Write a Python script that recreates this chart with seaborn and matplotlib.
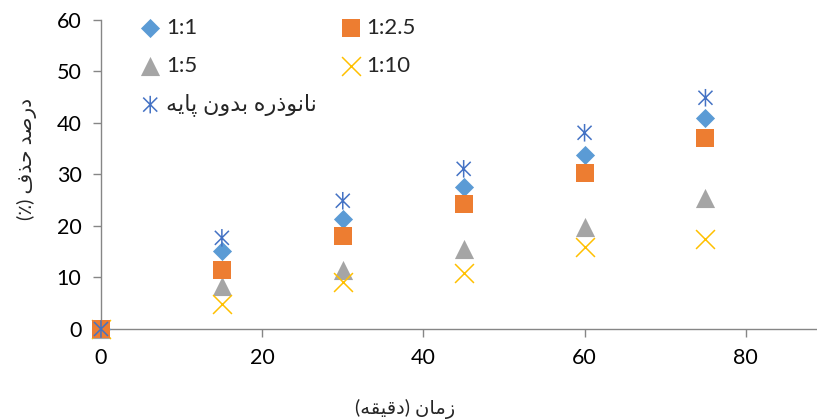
import numpy as np
import pandas as pd
import matplotlib
matplotlib.use('Agg')
import matplotlib.pyplot as plt
from matplotlib.path import Path
import seaborn as sns

# data
time = [0, 15, 30, 45, 60, 75]
time_2_5 = [0, 15, 30, 45, 60, 75, 90]
ratio_1_1 = [0, 15.2, 21.4, 27.6, 33.8, 41.0]
ratio_1_2_5 = [0, 11.5, 18.1, 24.3, 30.3, 37.1, 42.3]
ratio_1_5 = [0, 8.3, 11.5, 15.5, 19.8, 25.5]
ratio_1_10 = [0, 4.9, 9.1, 10.9, 15.9, 17.5]
bare_nano = [0, 17.7, 24.9, 31.1, 38.1, 44.9]

x_ticks = [0, 20, 40, 60, 80]
y_ticks = [0, 10, 20, 30, 40, 50, 60]

# minimal persian shaping (matplotlib has no RTL / joining support)
FORMS = {
    'ا': ('\uFE8D', '\uFE8E', None, None),
    'ب': ('\uFE8F', '\uFE90', '\uFE91', '\uFE92'),
    'پ': ('\uFB56', '\uFB57', '\uFB58', '\uFB59'),
    'ح': ('\uFEA1', '\uFEA2', '\uFEA3', '\uFEA4'),
    'د': ('\uFEA9', '\uFEAA', None, None),
    'ذ': ('\uFEAB', '\uFEAC', None, None),
    'ر': ('\uFEAD', '\uFEAE', None, None),
    'ز': ('\uFEAF', '\uFEB0', None, None),
    'ص': ('\uFEB9', '\uFEBA', '\uFEBB', '\uFEBC'),
    'ف': ('\uFED1', '\uFED2', '\uFED3', '\uFED4'),
    'ق': ('\uFED5', '\uFED6', '\uFED7', '\uFED8'),
    'م': ('\uFEE1', '\uFEE2', '\uFEE3', '\uFEE4'),
    'ن': ('\uFEE5', '\uFEE6', '\uFEE7', '\uFEE8'),
    'ه': ('\uFEE9', '\uFEEA', '\uFEEB', '\uFEEC'),
    'و': ('\uFEED', '\uFEEE', None, None),
    'ی': ('\uFBFC', '\uFBFD', '\uFBFE', '\uFBFF'),
}


def fa(text):
    out = []
    for i, c in enumerate(text):
        if c not in FORMS:
            out.append(c)
            continue
        prev = text[i - 1] if i > 0 else ''
        nxt = text[i + 1] if i + 1 < len(text) else ''
        jp = prev in FORMS and FORMS[prev][2] is not None
        jn = FORMS[c][2] is not None and nxt in FORMS
        iso, fin, ini, med = FORMS[c]
        if jp and jn:
            out.append(med)
        elif jp:
            out.append(fin)
        elif jn:
            out.append(ini)
        else:
            out.append(iso)
    s = ''.join(reversed(out))
    return s.translate(str.maketrans('()', ')('))


sns.set_style('white')
plt.rcParams['font.family'] = ['Lato', 'DejaVu Sans']

# excel style star: x with a vertical bar
star = Path([(-1, -1), (1, 1), (-1, 1), (1, -1), (0, -1.25), (0, 1.25)],
            [Path.MOVETO, Path.LINETO, Path.MOVETO, Path.LINETO, Path.MOVETO, Path.LINETO])

series = [
    ('1:1', time, ratio_1_1, 'D', '#5B9BD5', 95, 3),
    ('1:2.5', time_2_5, ratio_1_2_5, 's', '#ED7D31', 185, 3.5),
    ('1:5', time, ratio_1_5, '^', '#A5A5A5', 190, 3),
    ('1:10', time, ratio_1_10, 'x', '#FFC000', 185, 3),
    (fa('نانوذره بدون پایه'), time, bare_nano, star, '#4472C4', 160, 4),
]

fig = plt.figure(figsize=(8.17, 4.19), dpi=100)
ax = fig.add_axes([0.1236, 0.2148, 0.9865, 0.7375])

for label, xs, ys, mk, col, sz, z in series:
    df = pd.DataFrame({'t': xs, 'v': ys})
    if isinstance(mk, Path):
        sns.scatterplot(data=df, x='t', y='v', marker=mk, color=col, s=sz,
                        facecolor='none', edgecolor=col, linewidth=1.1,
                        ax=ax, label=label, clip_on=False, zorder=z)
    elif mk == 'x':
        sns.scatterplot(data=df, x='t', y='v', marker=mk, color=col, s=sz,
                        linewidth=1.1, ax=ax, label=label, clip_on=False, zorder=z)
    else:
        sns.scatterplot(data=df, x='t', y='v', marker=mk, color=col, s=sz,
                        linewidth=0, ax=ax, label=label, clip_on=False, zorder=z)

ax.set_xlim(0, 100)
ax.set_ylim(0, 60)
ax.set_xticks(x_ticks)
ax.set_yticks(y_ticks)

for side in ['top', 'right']:
    ax.spines[side].set_visible(False)
for side in ['left', 'bottom']:
    ax.spines[side].set_color('#868686')
    ax.spines[side].set_linewidth(1.0)
ax.tick_params(axis='both', which='major', length=6, width=1, color='#868686',
               labelsize=15.5, labelcolor='black', pad=8, direction='out')
ax.tick_params(left=True, bottom=True)

ax.set_xlabel(fa('زمان (دقیقه)'), fontsize=14)
ax.set_ylabel(fa('درصد حذف (٪)'), fontsize=14.5)
ax.xaxis.set_label_coords(0.377, -0.225)
ax.yaxis.set_label_coords(-0.08, 0.55)

handles, labels = ax.get_legend_handles_labels()
order = [0, 2, 4, 1, 3]
ax.legend([handles[i] for i in order], [labels[i] for i in order], ncol=2,
          loc='upper left', bbox_to_anchor=(128 / 817, 1 - 9 / 419),
          bbox_transform=fig.transFigure, frameon=False, fontsize=16,
          handletextpad=0.1, labelspacing=0.8, columnspacing=0.95,
          handlelength=1.2, borderaxespad=0)

fig.savefig('out.png', dpi=100)
